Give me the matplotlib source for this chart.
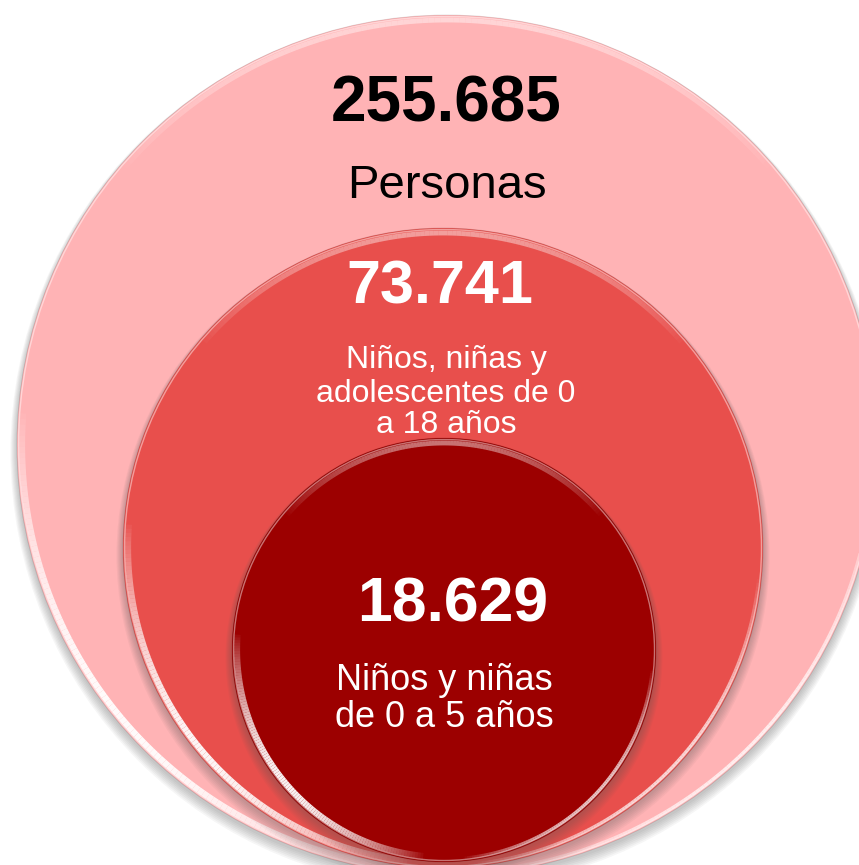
import numpy as np
import matplotlib
matplotlib.use("Agg")
import matplotlib.pyplot as plt
from matplotlib.patches import Circle
from matplotlib.collections import LineCollection

# ---- data ----
values = ["255.685", "73.741", "18.629"]
labels = [["Personas"],
          ["Niños, niñas y", "adolescentes de 0", "a 18 años"],
          ["Niños y niñas", "de 0 a 5 años"]]

# ---- layout / style (pixel coordinates, y downward) ----
W, H = 859, 865
circles = [(447, 445, 430), (443, 548, 320), (444, 650, 212)]
fills = ["#FFB3B5", "#E84F4C", "#9C0000"]
text_colors = ["black", "white", "white"]
value_pos = [(446, 122), (440, 303), (453, 622)]
value_size = [46, 44, 45]
label_pos = [(447, [198]), (446, [368, 402, 433]), (444, [690, 727])]
label_size = [34, 23, 26]

plt.rcParams['font.family'] = ['Liberation Sans', 'DejaVu Sans']
fig = plt.figure(figsize=(W / 100, H / 100), dpi=100)
ax = fig.add_axes([0, 0, 1, 1])
ax.set_xlim(0, W)
ax.set_ylim(H, 0)
ax.set_aspect('equal')
ax.axis('off')


def tapered_arc(cx, cy, r, t1, t2, lw, amax, z, color='white', n=120):
    t = np.radians(np.linspace(t1, t2, n + 1))
    x = cx + r * np.cos(t)
    y = cy + r * np.sin(t)
    segs = [[(x[k], y[k]), (x[k + 1], y[k + 1])] for k in range(n)]
    prof = np.sin(np.linspace(0, np.pi, n)) ** 0.8
    rgba = np.zeros((n, 4))
    rgba[:, :3] = matplotlib.colors.to_rgb(color)
    rgba[:, 3] = amax * prof
    ax.add_collection(LineCollection(segs, colors=rgba, linewidths=lw,
                                     capstyle='butt', zorder=z))


for i, ((cx, cy, r), fc) in enumerate(zip(circles, fills)):
    z = 2 + i * 10
    # soft shadow
    for k in range(7):
        ax.add_patch(Circle((cx, cy + 3 + k * 0.7), r + 0.5 + k * 1.0,
                            facecolor='#505050', edgecolor='none',
                            alpha=0.05, zorder=z))
    ax.add_patch(Circle((cx, cy), r, facecolor=fc, edgecolor='none', zorder=z + 1))
    # thin glossy rim
    ax.add_patch(Circle((cx, cy), r - 1.5, facecolor='none', edgecolor='white',
                        linewidth=1.0, alpha=0.45, zorder=z + 2))
    # bright lower-left band
    tapered_arc(cx, cy, r - 5, 95, 185, 4.5, 0.95, z + 2)
    # lower-right thin highlight
    tapered_arc(cx, cy, r - 3, 5, 85, 2.2, 0.75, z + 2)
    # top highlight
    tapered_arc(cx, cy, r - 5, 220, 320, 3.5, 0.45, z + 2)
    # darker outline
    ax.add_patch(Circle((cx, cy), r, facecolor='none', edgecolor='#000000',
                        linewidth=0.6, alpha=0.12, zorder=z + 2))

for i in range(3):
    vx, vy = value_pos[i]
    ax.text(vx, vy, values[i], ha='center', va='baseline', fontsize=value_size[i],
            fontweight='bold', color=text_colors[i], zorder=50)
    lx, lys = label_pos[i]
    for line, ly in zip(labels[i], lys):
        ax.text(lx, ly, line, ha='center', va='baseline', fontsize=label_size[i],
                color=text_colors[i], zorder=50)

fig.savefig("out.png", dpi=100)
